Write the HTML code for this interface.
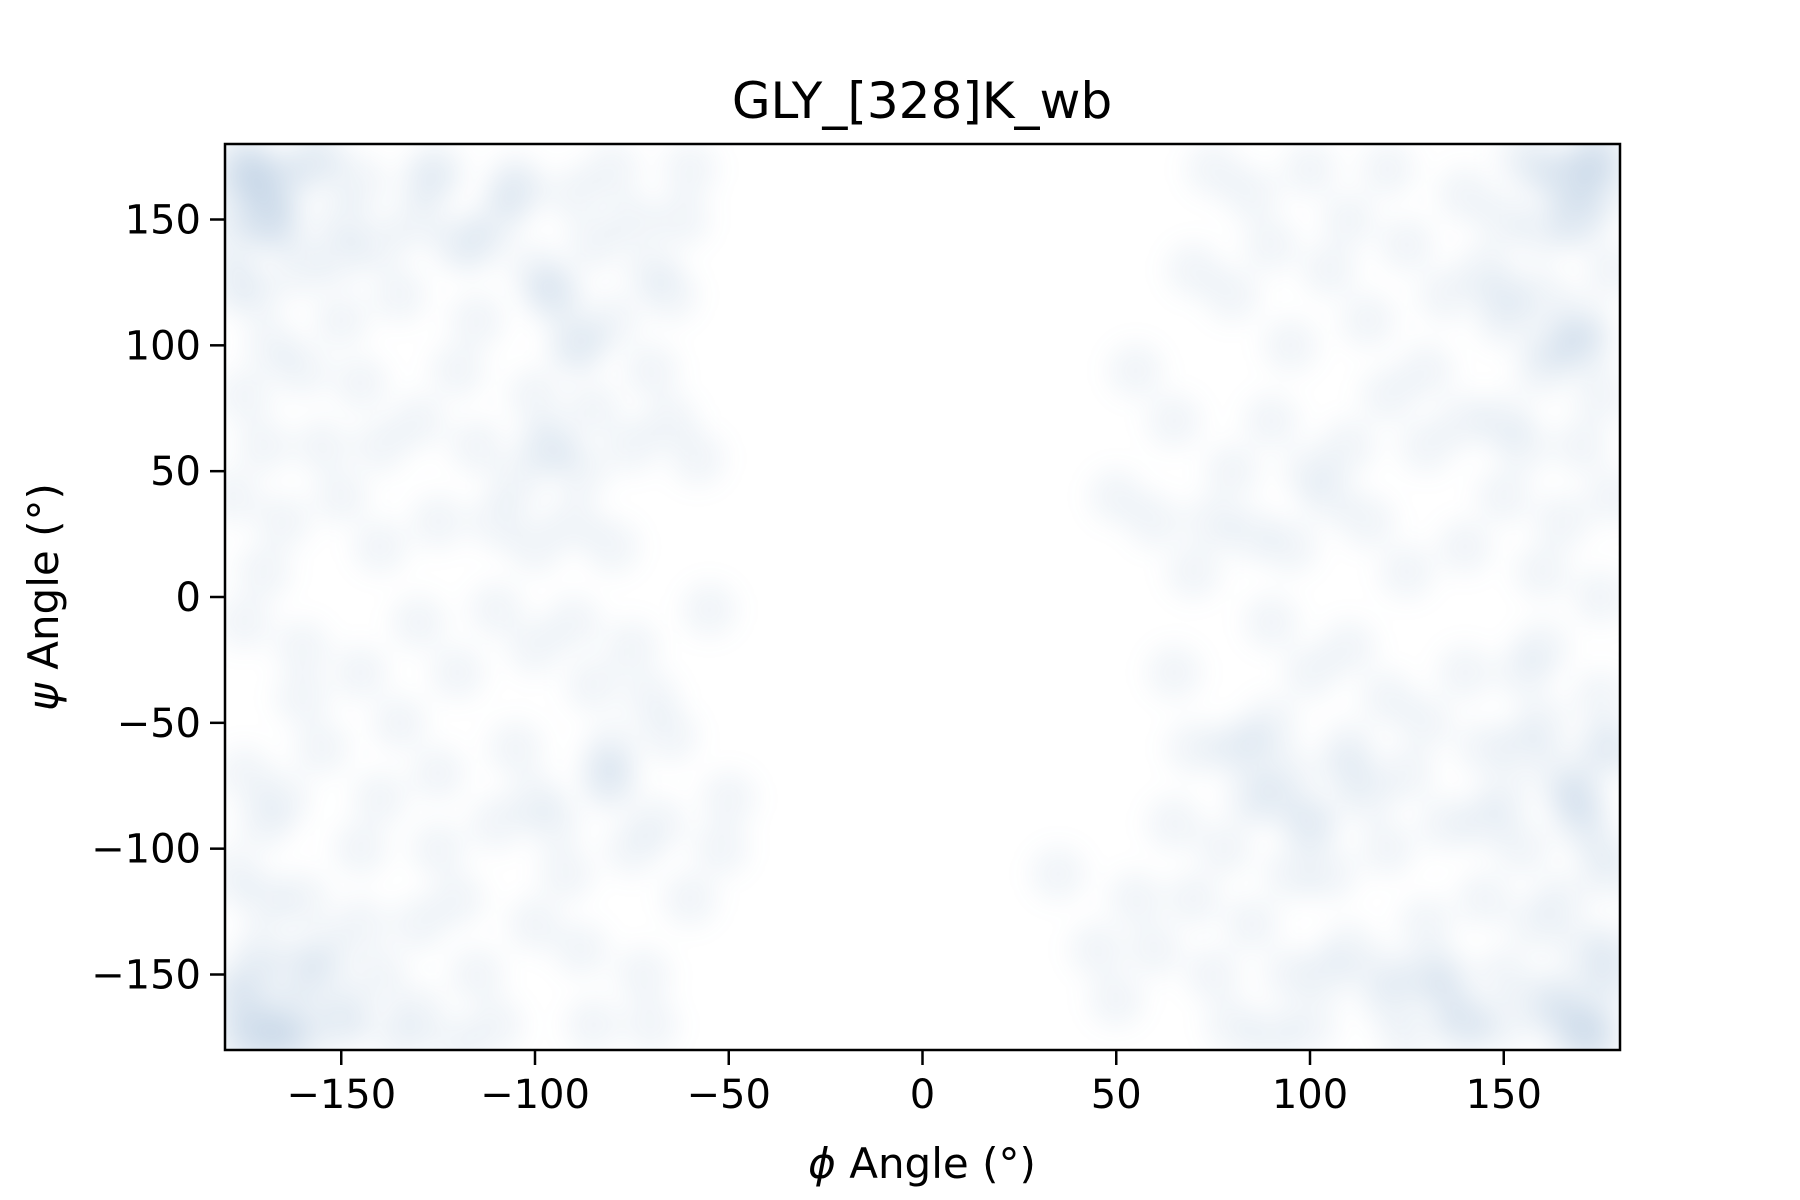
<!DOCTYPE html>
<html><head><meta charset="utf-8"><style>
html,body{margin:0;padding:0;background:#fff;}
svg{display:block;font-family:"DejaVu Sans","Liberation Sans",sans-serif;}
</style></head><body>
<svg id="chart" width="1800" height="1200" viewBox="0 0 1800 1200" xmlns="http://www.w3.org/2000/svg">
<defs><filter id="soft" x="-5%" y="-5%" width="110%" height="110%" color-interpolation-filters="sRGB"><feGaussianBlur stdDeviation="13"/></filter></defs>
<rect width="1800" height="1200" fill="#fff"/>
<text x="922" y="118" font-size="50" text-anchor="middle">GLY_[328]K_wb</text>
<g id="points"></g>
<g id="ticks"></g>
<rect x="225" y="144" width="1395" height="906" fill="none" stroke="#000" stroke-width="2.5"/>
<text x="922" y="1178" font-size="42" text-anchor="middle"><tspan font-style="italic">ϕ</tspan> Angle (°)</text>
<text transform="translate(58,597) rotate(-90)" font-size="42" text-anchor="middle"><tspan font-style="italic">ψ</tspan> Angle (°)</text>
</svg>
<script>
const phi = [-175,-170,-165,-178,-160,-172,-155,-150,-145,-140,-168,-175,-160,-150,-135,-130,-125,-120,-115,-110,-105,-100,-95,-90,-100,-95,-88,-85,-80,-85,-90,-80,-75,-70,-65,-62,-60,-70,-75,-145,-140,-155,-170,-178,-165,-150,-130,-120,-115,-110,-125,-140,-100,-90,-80,-105,-65,-58,-170,
-175,-160,-145,-130,-120,-110,-100,-90,-85,-75,-70,-65,-55,-80,
-175,-170,-165,-178,-160,-170,-175,-165,-155,-178,-150,-145,-140,-135,-130,-125,-120,-115,-110,-105,-100,-95,-92,-88,-85,-80,-75,-72,-70,-68,-60,-50,-52,-140,-155,-160,-125,-110,-100,-130,-145,
-176,-168,-172,-162,-178,-170,-174,-166,
175,170,165,178,160,155,150,168,175,160,150,145,140,135,130,125,120,115,110,105,100,95,90,85,80,75,70,140,155,170,178,165,150,130,120,110,100,90,80,75,70,85,95,105,115,125,140,160,175,60,55,65,50,
80,85,78,90,95,100,105,110,115,120,125,130,135,140,145,150,155,160,165,170,175,178,85,95,100,110,120,130,140,150,160,170,175,165,145,125,90,75,70,65,60,55,50,45,35,100,110,120,160,90,170,178,155,135,105,80,70,65,
172,176,168,174,165,178,170,176,160,172,
-175,-165,-158,-178,-168,-150,-172,-162,-155,-178,-170,-160,-148,-135,-120,-105,-95,-88,-115,-128,-98,-82,
175,168,160,150,178,165,172,158,175,168,155,145,170,162,150,140,130,90,85,95,100,110,120,135,150];
const psi = [170,150,165,140,130,120,175,150,165,140,100,80,90,110,120,150,170,140,110,150,165,130,120,100,80,60,50,75,110,140,160,170,150,130,120,150,170,90,60,85,60,60,60,40,30,40,70,90,60,30,30,20,20,30,20,45,70,55,10,
-10,-20,-30,-10,-30,-5,-20,-10,-35,-20,-40,-55,-5,-60,
-70,-90,-80,-110,-120,-140,-160,-170,-150,-178,-170,-100,-80,-50,-130,-100,-120,-150,-170,-60,-80,-90,-110,-140,-170,-75,-100,-150,-170,-90,-120,-80,-100,-150,-60,-40,-70,-90,-130,-165,-130,
175,160,-175,-165,155,170,-150,-178,
170,150,165,130,120,175,150,100,80,90,110,130,160,120,90,140,170,110,150,130,170,100,140,160,120,170,130,70,60,60,40,30,40,60,80,60,50,70,50,30,10,25,20,40,30,10,20,10,0,30,90,70,40,
-60,-80,-100,-50,-70,-90,-110,-60,-80,-100,-70,-50,-90,-30,-60,-80,-100,-50,-70,-90,-40,-110,-130,-150,-170,-140,-160,-130,-170,-150,-160,-140,-175,-120,-120,-175,-175,-150,-120,-90,-140,-120,-160,-140,-110,-30,-20,-40,-20,-10,-175,-60,-30,-150,-150,-170,-60,-30,
175,160,150,-160,-170,-140,-80,-60,170,100,
165,145,172,125,150,135,-172,-150,-140,-160,-120,-178,-165,-175,-178,160,120,100,140,165,60,-70,
178,165,145,120,-150,-160,-175,-130,-100,-80,-60,-90,110,100,70,-170,-150,-80,-60,-110,-90,-70,-150,-160,-170];
const xTicks = [-150,-100,-50,0,50,100,150];
const yTicks = [-150,-100,-50,0,50,100,150];
const NS="http://www.w3.org/2000/svg";
const X0=225,X1=1620,Y0=1050,Y1=144;
function sx(v){return X0+(v+180)/360*(X1-X0);}
function sy(v){return Y0-(v+180)/360*(Y0-Y1);}
const svgEl=document.getElementById('chart');
const clip=document.createElementNS(NS,'clipPath');clip.setAttribute('id','pc');
const cr=document.createElementNS(NS,'rect');cr.setAttribute('x',X0);cr.setAttribute('y',Y1);cr.setAttribute('width',X1-X0);cr.setAttribute('height',Y0-Y1);
clip.appendChild(cr);svgEl.querySelector('defs').appendChild(clip);
const outer=document.getElementById('points');
outer.setAttribute('clip-path','url(#pc)');
const pg=document.createElementNS(NS,'g');
pg.setAttribute('filter','url(#soft)');


outer.appendChild(pg);
for(let i=0;i<phi.length;i++){
  const c=document.createElementNS(NS,'circle');
  c.setAttribute('cx',sx(phi[i]));c.setAttribute('cy',sy(psi[i]));c.setAttribute('r',27);
  c.setAttribute('fill','#3f72b0');c.setAttribute('fill-opacity','0.07');
  
  
  pg.appendChild(c);
}
const tg=document.getElementById('ticks');
xTicks.forEach(v=>{
  const l=document.createElementNS(NS,'line');
  l.setAttribute('x1',sx(v));l.setAttribute('x2',sx(v));l.setAttribute('y1',Y0);l.setAttribute('y2',Y0+15);l.setAttribute('stroke','#000');l.setAttribute('stroke-width','2.5');
  
  
  tg.appendChild(l);
  const t=document.createElementNS(NS,'text');
  t.setAttribute('x',sx(v));t.setAttribute('y',Y0+58);t.setAttribute('font-size','40');t.setAttribute('text-anchor','middle');
  t.textContent=v<0?'\u2212'+Math.abs(v):String(v);
  
  
  tg.appendChild(t);
});
yTicks.forEach(v=>{
  const l=document.createElementNS(NS,'line');
  l.setAttribute('x1',X0-15);l.setAttribute('x2',X0);l.setAttribute('y1',sy(v));l.setAttribute('y2',sy(v));l.setAttribute('stroke','#000');l.setAttribute('stroke-width','2.5');
  
  
  tg.appendChild(l);
  const t=document.createElementNS(NS,'text');
  t.setAttribute('x',X0-24);t.setAttribute('y',sy(v)+14);t.setAttribute('font-size','40');t.setAttribute('text-anchor','end');
  t.textContent=v<0?'\u2212'+Math.abs(v):String(v);
  
  
  tg.appendChild(t);
});
</script>
</body></html>
